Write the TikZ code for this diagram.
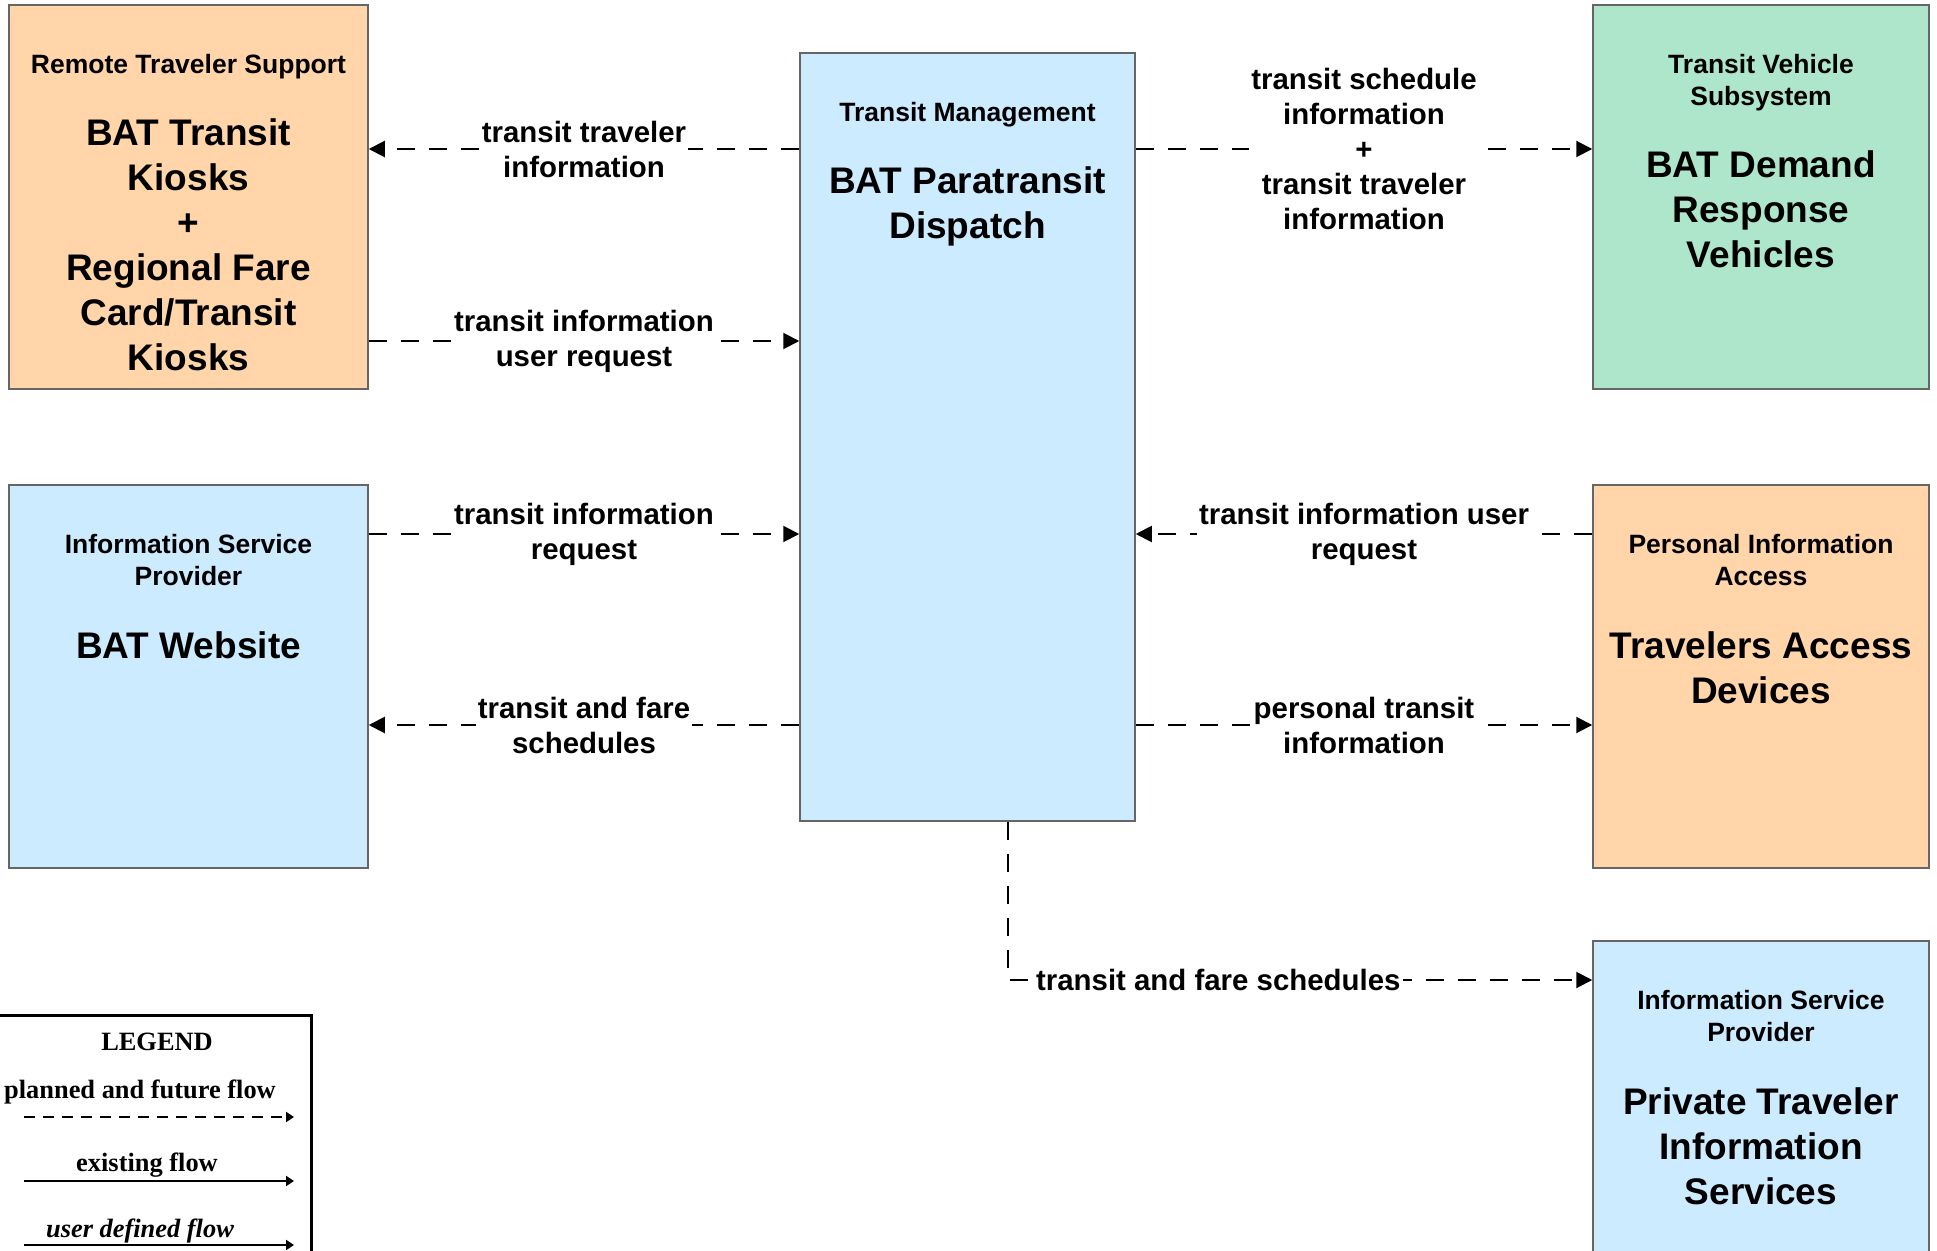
\documentclass[tikz,border=0pt]{standalone}
\usepackage{fontspec}
\setmainfont{Liberation Sans}
\newfontfamily\legendfont{Liberation Serif}
\usetikzlibrary{arrows.meta}

\definecolor{rtsorange}{HTML}{FFD5A9}
\definecolor{tmblue}{HTML}{CCEBFF}
\definecolor{tvsgreen}{HTML}{AEE6CC}
\definecolor{boxline}{HTML}{666666}

\begin{document}
\begin{tikzpicture}[x=0.5pt, y=0.5pt]

	\tikzstyle{subsys}=[rectangle, draw=boxline, line width=0.75pt, inner sep=0pt]
	\tikzstyle{hdr}=[align=center, anchor=north, inner sep=0pt, font=\bfseries\fontsize{13.25}{16}\selectfont]
	\tikzstyle{ttl}=[align=center, anchor=north, inner sep=0pt, font=\bfseries\fontsize{18.5}{22.5}\selectfont]
	\tikzstyle{flow}=[dash pattern=on 9pt off 7pt, line width=1pt, -{Triangle[length=8pt, width=8pt]}]
	\tikzstyle{lbl}=[align=center, fill=white, inner xsep=1pt, inner ysep=0pt, font=\bfseries\fontsize{14.7}{17.5}\selectfont]
	\tikzstyle{leg}=[inner sep=0pt, font=\legendfont\bfseries\fontsize{13.2}{15}\selectfont]
	\tikzstyle{legflow}=[line width=1.3pt, -{Triangle[length=4pt, width=5pt]}]

	\useasboundingbox (0,0) rectangle (1937,-1251);

	\coordinate (lv_1) at (0,-149);
	\coordinate (lv_2) at (0,-341);
	\coordinate (lv_3) at (0,-534);
	\coordinate (lv_4) at (0,-725);
	\coordinate (lv_5) at (0,-980);

	\node[subsys, fill=rtsorange, minimum width=179.5pt, minimum height=192pt] (rts) at (188.5,-197) {}; % REMOTE TRAVELER SUPPORT
	\node[subsys, fill=tmblue, minimum width=167.5pt, minimum height=384pt] (tm) at (967.5,-437) {}; % TRANSIT MANAGEMENT
	\node[subsys, fill=tvsgreen, minimum width=168pt, minimum height=192pt] (tvs) at (1761,-197) {}; % TRANSIT VEHICLE
	\node[subsys, fill=tmblue, minimum width=179.5pt, minimum height=191.5pt] (isp_1) at (188.5,-676.5) {}; % INFO SERVICE PROVIDER
	\node[subsys, fill=rtsorange, minimum width=168pt, minimum height=191.5pt] (pia) at (1761,-676.5) {}; % PERSONAL INFO ACCESS
	\node[subsys, fill=tmblue, minimum width=168pt, minimum height=200pt] (isp_2) at (1761,-1141) {}; % INFO SERVICE PROVIDER

	\node[hdr] (rts_h) at ([yshift=-24.75pt]rts.north) {Remote Traveler Support};
	\node[ttl] (rts_t) at ([yshift=-57.25pt]rts.north) {BAT Transit\\Kiosks\\+\\Regional Fare\\Card/Transit\\Kiosks};
	\node[hdr] (tm_h) at ([yshift=-24.75pt]tm.north) {Transit Management};
	\node[ttl] (tm_t) at ([yshift=-57.25pt]tm.north) {BAT Paratransit\\Dispatch};
	\node[hdr] (tvs_h) at ([yshift=-24.75pt]tvs.north) {Transit Vehicle\\Subsystem};
	\node[ttl] (tvs_t) at ([yshift=-73.25pt]tvs.north) {BAT Demand\\Response\\Vehicles};
	\node[hdr] (isp_1_h) at ([yshift=-24.75pt]isp_1.north) {Information Service\\Provider};
	\node[ttl] (isp_1_t) at ([yshift=-73.75pt]isp_1.north) {BAT Website};
	\node[hdr] (pia_h) at ([yshift=-24.75pt]pia.north) {Personal Information\\Access};
	\node[ttl] (pia_t) at ([yshift=-73.75pt]pia.north) {Travelers Access\\Devices};
	\node[hdr] (isp_2_h) at ([yshift=-24.75pt]isp_2.north) {Information Service\\Provider};
	\node[ttl] (isp_2_t) at ([yshift=-73.75pt]isp_2.north) {Private Traveler\\Information\\Services};

	\draw[flow] (tm.west |- lv_1) -- node[lbl] {transit traveler\\information} (rts.east |- lv_1);
	\draw[flow] (rts.east |- lv_2) -- node[lbl] {transit information\\user request} (tm.west |- lv_2);
	\draw[flow] (isp_1.east |- lv_3) -- node[lbl] {transit information\\request} (tm.west |- lv_3);
	\draw[flow] (tm.west |- lv_4) -- node[lbl] {transit and fare\\schedules} (isp_1.east |- lv_4);
	\draw[flow] (tm.east |- lv_1) -- node[lbl] {transit schedule\\information\\+\\transit traveler\\information} (tvs.west |- lv_1);
	\draw[flow] (pia.west |- lv_3) -- node[lbl] {transit information user\\request} (tm.east |- lv_3);
	\draw[flow] (tm.east |- lv_4) -- node[lbl] {personal transit\\information} (pia.west |- lv_4);
	\draw[flow] ([xshift=20.25pt]tm.south) |- node[lbl, pos=0.68] {transit and fare schedules} (isp_2.west |- lv_5);

	% LEGEND
	\draw[line width=1.5pt] (-10,-1015) -- (311,-1015) -- (311,-1270);
	\coordinate (lg_1a) at (24,-1117);
	\coordinate (lg_1b) at (294,-1117);
	\coordinate (lg_2a) at (24,-1181);
	\coordinate (lg_2b) at (294,-1181);
	\coordinate (lg_3a) at (24,-1245);
	\coordinate (lg_3b) at (294,-1245);
	\node[leg] (leg_t) at (157,-1042) {LEGEND};
	\node[leg] (leg_p) at (140,-1092) {planned and future flow};
	\node[leg] (leg_e) at (147,-1165) {existing flow};
	\node[leg, font=\legendfont\bfseries\itshape\fontsize{13.2}{15}\selectfont] (leg_u) at (140,-1231) {user defined flow};
	\draw[legflow, line width=1pt, dash pattern=on 5.5pt off 4pt] (lg_1a) -- (lg_1b);
	\draw[legflow] (lg_2a) -- (lg_2b);
	\draw[legflow] (lg_3a) -- (lg_3b);
\end{tikzpicture}
\end{document}
